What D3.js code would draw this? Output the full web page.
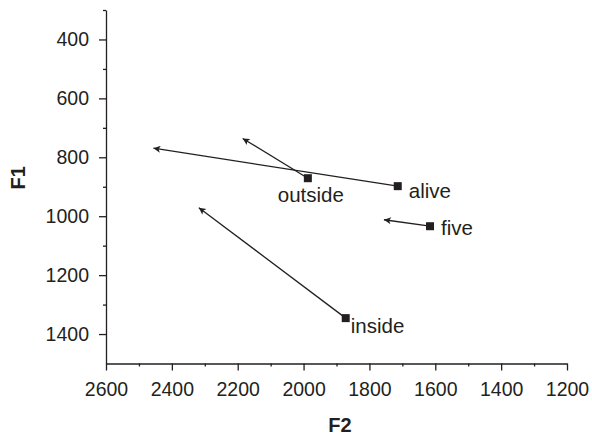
<!DOCTYPE html>
<html lang="en">
<head>
<meta charset="UTF-8">
<title>F1 / F2 vowel shifts</title>
<script src="https://d3js.org/d3.v7.min.js"></script>
<style>
  body { margin: 0; background: #fff; }
  svg { display: block; font-family: "Liberation Sans", Arial, sans-serif; }
  .axis path, .axis line { stroke: #231f20; stroke-width: 1.3px; }
  .axis text { fill: #231f20; font-size: 19.5px; }
  .title { fill: #231f20; font-size: 20px; font-weight: bold; }
  .arrow { stroke: #231f20; stroke-width: 1.3px; fill: none; }
  .label { fill: #231f20; font-size: 20.5px; }
</style>
</head>
<body>
<svg width="592" height="436"></svg>
<script>
// words, start point (F2, F1) and arrow end point
const words = ["alive", "outside", "five", "inside"];
const startF2 = [1714, 1987, 1616, 1872];
const startF1 = [898, 871, 1034, 1346];
const endF2 = [2456, 2185, 1756, 2318];
const endF1 = [769, 736, 1012, 971];

const xMajor = [2600, 2400, 2200, 2000, 1800, 1600, 1400, 1200];
const xMinor = [2500, 2300, 2100, 1900, 1700, 1500, 1300];
const yMajor = [400, 600, 800, 1000, 1200, 1400];
const yMinor = [300, 500, 700, 900, 1100, 1300];

const svg = d3.select("svg");
const margin = { top: 10, right: 25, bottom: 72.5, left: 106 };
const width = 592 - margin.left - margin.right;
const height = 436 - margin.top - margin.bottom;
const g = svg.append("g").attr("transform", `translate(${margin.left},${margin.top})`);

const x = d3.scaleLinear().domain([2600, 1200]).range([0, width]);
const y = d3.scaleLinear().domain([300, 1500]).range([0, height]);

// minor ticks first, majors on top
g.append("g").attr("class", "axis").attr("transform", `translate(0,${height})`)
  .call(d3.axisBottom(x).tickValues(xMinor).tickSize(3).tickFormat(""))
  .call(a => a.select(".domain").remove());
g.append("g").attr("class", "axis").attr("transform", `translate(0,${height})`)
  .call(d3.axisBottom(x).tickValues(xMajor).tickSize(7).tickSizeOuter(0).tickPadding(12).tickFormat(d3.format("d")));

g.append("g").attr("class", "axis")
  .call(d3.axisLeft(y).tickValues(yMinor).tickSize(3).tickFormat(""))
  .call(a => a.select(".domain").remove());
g.append("g").attr("class", "axis")
  .call(d3.axisLeft(y).tickValues(yMajor).tickSize(7).tickSizeOuter(0).tickPadding(10).tickFormat(d3.format("d")));

svg.append("text").attr("class", "title")
  .attr("text-anchor", "middle")
  .attr("x", 340).attr("y", 432)
  .text("F2");
svg.append("text").attr("class", "title")
  .attr("text-anchor", "middle")
  .attr("transform", `translate(24.5,${margin.top + y(870)}) rotate(-90)`)
  .text("F1");

svg.append("defs").append("marker")
  .attr("id", "head")
  .attr("viewBox", "0 0 10 10")
  .attr("refX", 10).attr("refY", 5)
  .attr("markerWidth", 10).attr("markerHeight", 7)
  .attr("markerUnits", "userSpaceOnUse")
  .attr("orient", "auto")
  .append("path").attr("d", "M0,0 L10,5 L0,10 L2.5,5 Z").attr("fill", "#231f20");

const data = words.map((w, i) => ({
  w, x0: startF2[i], y0: startF1[i], x1: endF2[i], y1: endF1[i]
}));

g.selectAll(".arrow").data(data).join("line")
  .attr("class", "arrow")
  .attr("x1", d => x(d.x0)).attr("y1", d => y(d.y0))
  .attr("x2", d => x(d.x1)).attr("y2", d => y(d.y1))
  .attr("marker-end", "url(#head)");

g.selectAll(".pt").data(data).join("rect")
  .attr("class", "pt")
  .attr("x", d => x(d.x0) - 4).attr("y", d => y(d.y0) - 4)
  .attr("width", 8).attr("height", 8)
  .attr("fill", "#231f20");

// label placement relative to the point
const labelOffset = {
  alive: [11, 11.5, "start"],
  outside: [3, 23.5, "middle"],
  five: [11, 9, "start"],
  inside: [5, 14.5, "start"]
};
g.selectAll(".label").data(data).join("text")
  .attr("class", "label")
  .attr("x", d => x(d.x0) + labelOffset[d.w][0])
  .attr("y", d => y(d.y0) + labelOffset[d.w][1])
  .attr("text-anchor", d => labelOffset[d.w][2])
  .text(d => d.w);
</script>
</body>
</html>
